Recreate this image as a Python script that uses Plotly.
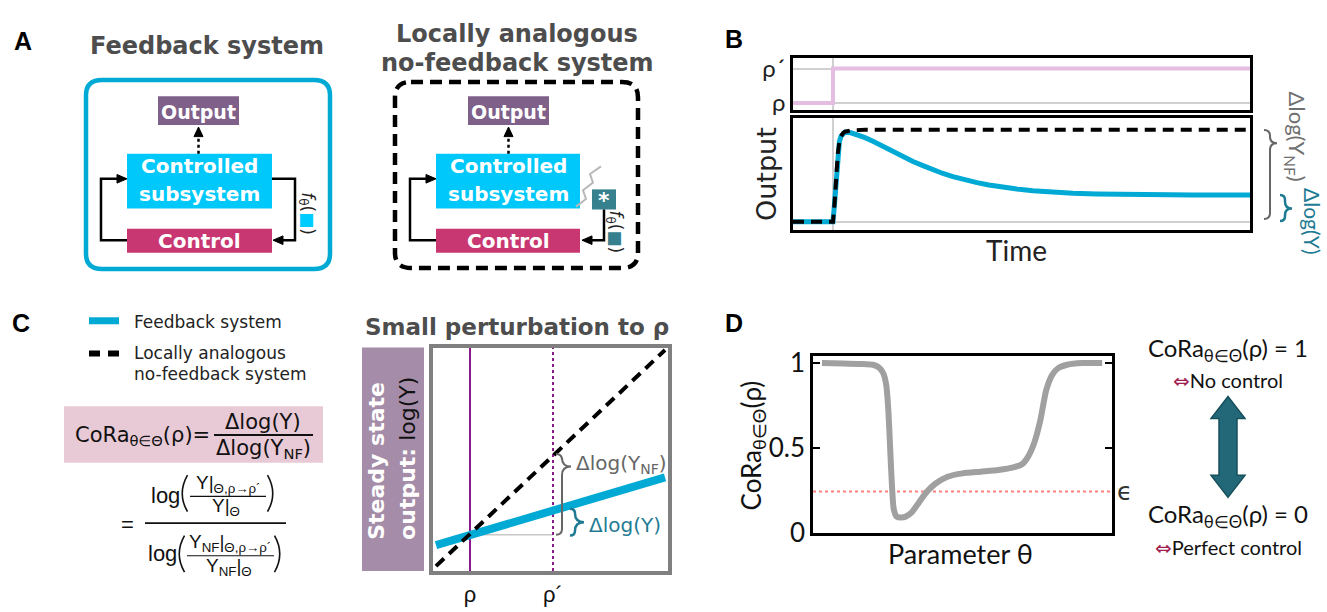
import plotly.graph_objects as go

W, H = 1327, 612

# ---------------- data ----------------
# Panel B (top): perturbation step in rho
b_step_time = [-1.0, 0.0, 10.43]
b_step_rho = [0, 1, 1]
b_rho_ticks = [0, 1]
b_rho_labels = ["ρ", "ρ´"]

# Panel B (bottom): output traces
b_time = [-1.0, 0.0, 0.04, 0.08, 0.12, 0.16, 0.2, 0.25, 0.3, 0.45, 0.6, 0.8, 1.0, 1.2, 1.4,
          1.6, 1.8, 2.0, 2.25, 2.5, 2.75, 3.0, 3.3, 3.6, 3.9, 4.2, 4.6, 5.0, 5.5, 6.0, 6.6,
          7.3, 8.0, 9.0, 10.43]
b_out_fb = [0, 0, 0.2, 0.5, 0.74, 0.87, 0.93, 0.962, 0.975, 0.968, 0.95, 0.915, 0.875, 0.83, 0.785,
            0.74, 0.695, 0.655, 0.61, 0.565, 0.525, 0.49, 0.455, 0.425, 0.4, 0.375, 0.355, 0.338,
            0.322, 0.31, 0.302, 0.297, 0.293, 0.291, 0.29]
b_out_nf = [0, 0, 0.2, 0.5, 0.74, 0.87, 0.93, 0.965, 0.98, 0.995, 1, 1, 1, 1, 1,
            1, 1, 1, 1, 1, 1, 1, 1, 1, 1, 1, 1, 1,
            1, 1, 1, 1, 1, 1, 1]

# Panel C: steady-state log output vs rho
c_rho = [0.59, 3.35]
c_logy_fb = [-0.13, 0.71]
c_logy_nf = [-0.39, 2.29]
c_rho_marks = [1, 2]
c_rho_labels = ["ρ", "ρ´"]
c_yrange = [-0.452, 2.32]
c_base = [0, 0]

# Panel D: CoRa vs parameter theta
d_theta = [0.3, 1.0, 1.6, 2.0, 2.2, 2.35, 2.45, 2.52, 2.58, 2.64, 2.7, 2.8, 2.95, 3.1, 3.3,
           3.55, 3.8, 4.1, 4.5, 5.0, 5.6, 6.2, 6.7, 7.0, 7.2, 7.4, 7.6, 7.8, 8.0, 8.2, 8.5, 9.0, 9.67]
d_cora = [1.0, 0.998, 0.995, 0.99, 0.975, 0.94, 0.87, 0.72, 0.5, 0.28, 0.14, 0.095, 0.09, 0.095, 0.12,
          0.18, 0.24, 0.29, 0.33, 0.35, 0.36, 0.37, 0.385, 0.405, 0.45, 0.53, 0.66, 0.84, 0.93, 0.97, 0.99, 1.0, 1.0]
d_eps_x = [0, 10]
d_eps = [0.243, 0.243]
d_yticks = [0, 0.5, 1]
d_ylabels = ["0", "0.5", "1"]

# ---------------- helpers ----------------
def P(x, y):
    return f"{x / W:.5f},{1 - y / H:.5f}"


def poly(points, close=False):
    s = "M " + " L ".join(P(x, y) for x, y in points)
    return s + (" Z" if close else "")


def rrect(x0, y0, x1, y1, r):
    return (f"M {P(x0 + r, y0)} L {P(x1 - r, y0)} Q {P(x1, y0)} {P(x1, y0 + r)} "
            f"L {P(x1, y1 - r)} Q {P(x1, y1)} {P(x1 - r, y1)} L {P(x0 + r, y1)} "
            f"Q {P(x0, y1)} {P(x0, y1 - r)} L {P(x0, y0 + r)} Q {P(x0, y0)} {P(x0 + r, y0)} Z")


def brace(xe, xm, xt, y1, y2, yt):
    r = xm - xe
    rt = xt - xm
    return (f"M {P(xe, y1)} Q {P(xm, y1)} {P(xm, y1 + r)} L {P(xm, yt - rt)} "
            f"Q {P(xm, yt)} {P(xt, yt)} Q {P(xm, yt)} {P(xm, yt + rt)} "
            f"L {P(xm, y2 - r)} Q {P(xm, y2)} {P(xe, y2)}")


def paren(x, y0, y1, side):
    b = 7 if side == "left" else -7
    return f"M {P(x + b / 2, y0)} Q {P(x - b, (y0 + y1) / 2)} {P(x + b / 2, y1)}"


shapes = []
annotations = []


def add_path(d, color, width=2, fill="rgba(0,0,0,0)", dash="solid"):
    shapes.append(dict(type="path", xref="paper", yref="paper", path=d,
                       line=dict(color=color, width=width, dash=dash), fillcolor=fill, layer="above"))


def add_rect(x0, y0, x1, y1, fill, line_color=None, width=0):
    shapes.append(dict(type="rect", xref="paper", yref="paper", x0=x0 / W, x1=x1 / W,
                       y0=1 - y1 / H, y1=1 - y0 / H, fillcolor=fill,
                       line=dict(color=line_color or fill, width=width), layer="below"))


def add_line(x0, y0, x1, y1, color, width=2, dash="solid"):
    shapes.append(dict(type="line", xref="paper", yref="paper", x0=x0 / W, x1=x1 / W,
                       y0=1 - y0 / H, y1=1 - y1 / H, line=dict(color=color, width=width, dash=dash),
                       layer="above"))


def txt(x, y, text, size=16, color="#222222", family="DejaVu Sans", xa="center", ya="middle", angle=0):
    annotations.append(dict(x=x / W, y=1 - y / H, xref="paper", yref="paper", text=text,
                            showarrow=False, xanchor=xa, yanchor=ya, textangle=angle,
                            font=dict(size=size, color=color, family=family)))


def head(tx, ty, direction, color="black", L=10, Wd=9):
    if direction == "right":
        pts = [(tx, ty), (tx - L, ty - Wd / 2), (tx - L, ty + Wd / 2)]
    elif direction == "left":
        pts = [(tx, ty), (tx + L, ty - Wd / 2), (tx + L, ty + Wd / 2)]
    else:  # up
        pts = [(tx, ty), (tx - Wd / 2, ty + L), (tx + Wd / 2, ty + L)]
    add_path(poly(pts, close=True), color, width=1, fill=color)


GRAY_T = "#4d4d4d"
C_OUT = "#7f6089"
C_SUB = "#00c8fa"
C_CTRL = "#c83771"
C_BLUE = "#00aad4"
C_TEAL = "#1f7b93"
IFF = "<span style='color:#a01e50;font-family:DejaVu Sans'>⇔</span>"

# ---------------- Panel A ----------------
txt(23, 32, "<b>A</b>", 25, "black", "Liberation Sans")
txt(207, 38, "<b>Feedback system</b>", 24, GRAY_T)
txt(517, 25, "<b>Locally analogous</b>", 24, GRAY_T)
txt(517, 55, "<b>no-feedback system</b>", 24, GRAY_T)

add_path(rrect(86, 73, 330, 270, 16), C_BLUE, width=4.5)
add_path(rrect(395, 75, 638, 269, 16), "black", width=4.5, dash="12px,7px")

for off, (bx0, bx1, ox0, ox1) in {0: (127, 272, 158, 239), 1: (436, 580, 468, 549)}.items():
    add_rect(ox0, 90, ox1, 120, C_OUT)
    add_rect(bx0, 150, bx1, 207, C_SUB)
    add_rect(bx0, 228, bx1, 253, C_CTRL)
    cx = (ox0 + ox1) / 2
    bc = (bx0 + bx1) / 2
    txt(cx, 106, "<b>Output</b>", 19, "white")
    txt(bc, 163, "<b>Controlled</b>", 20, "white")
    txt(bc, 192, "<b>subsystem</b>", 20, "white")
    txt(bc, 241, "<b>Control</b>", 20, "white")
    add_line(cx, 150, cx, 131, "black", 2.5, "dot")
    head(cx, 122, "up")
    # left loop arrow
    lx = bx0 - 26
    add_path(poly([(bx0, 240), (lx, 240), (lx, 176), (bx0 - 8, 176)]), "black", 2.5)
    head(bx0, 176, "right")

# right loop, feedback system
add_path(poly([(272, 176), (295, 176), (295, 240), (282, 240)]), "black", 2.5)
head(273, 240, "left")
txt(307, 212, "<i>f</i><sub>θ</sub>(<span style='color:#00ccff'>■</span>)", 17, "#222222",
    angle=90)

# no-feedback: zigzag, star box, arrow
add_path(poly([(576, 205), (586, 197), (583, 188), (593, 180), (590, 171), (601, 163)]), "#b8b8b8", 2)
add_rect(592, 187, 616, 208, "#37818f")
txt(604, 199, "<b>*</b>", 22, "white")
add_path(poly([(604, 208), (604, 240), (591, 240)]), "black", 2.5)
head(582, 240, "left")
txt(614, 231, "<i>f</i><sub>θ</sub>(<span style='color:#37818f'>■</span>)", 17, "#222222",
    angle=90)

# ---------------- Panel B ----------------
txt(734, 30, "<b>B</b>", 25, "black", "Liberation Sans")
txt(766, 171, "Output", 27, "#222222", "DejaVu Sans", angle=-90)
txt(1016, 250, "Time", 28, "#222222", "Lato")
add_path(brace(1264, 1270, 1277, 125, 218, 139), "#666666", 2)
add_path(brace(1280, 1285, 1292, 193, 220, 207), C_TEAL, 2.5)
txt(1296, 132, "Δlog(Y<sub>NF</sub>)", 22, "#707070", "Lato", angle=90)
txt(1313, 220, "Δlog(Y)", 21, C_TEAL, "Lato", angle=90)

# ---------------- Panel C ----------------
txt(21, 326, "<b>C</b>", 25, "black", "Liberation Sans")
add_line(89, 324, 119, 324, C_BLUE, 7)
add_line(89, 358, 119, 358, "black", 6, "11px,8px")
txt(132, 325, "Feedback system", 17, "#222222", xa="left")
txt(132, 358, "Locally analogous", 17, "#222222", xa="left")
txt(132, 380, "no-feedback system", 17, "#222222", xa="left")

add_rect(64, 413, 323, 472, "#e8cad6")
txt(212, 444, "CoRa<sub>θ∈Θ</sub>(ρ)=", 21, "#111111", xa="right")
txt(263, 430, "Δlog(Y)", 21, "#111111")
txt(263, 458, "Δlog(Y<sub>NF</sub>)", 21, "#111111")
add_line(214, 443, 313, 443, "#111111", 2)

FF = "Liberation Sans"
txt(127, 536, "=", 22, "#111111", FF)
add_line(145, 535, 286, 535, "#111111", 1.8)
txt(165, 506, "log", 22, "#111111", FF)
add_path(paren(184, 485, 523, "left"), "#111111", 1.6)
add_path(paren(271, 485, 523, "right"), "#111111", 1.6)
txt(228, 494, "Y|<sub>Θ,ρ→ρ´</sub>", 19, "#111111", FF)
add_line(190, 507, 266, 507, "#111111", 1.2)
txt(226, 518, "Y|<sub>Θ</sub>", 19, "#111111", FF)

txt(162, 567, "log", 22, "#111111", FF)
add_path(paren(181, 548, 586, "left"), "#111111", 1.6)
add_path(paren(278, 548, 586, "right"), "#111111", 1.6)
txt(230, 556, "Y<sub>NF</sub>|<sub>Θ,ρ→ρ´</sub>", 19, "#111111", FF)
add_line(187, 569, 274, 569, "#111111", 1.2)
txt(229, 581, "Y<sub>NF</sub>|<sub>Θ</sub>", 19, "#111111", FF)

txt(517, 330, "<b>Small perturbation to ρ</b>", 23, GRAY_T)
add_rect(362, 352, 424, 585, "#a58ca8")
txt(377, 470, "<b>Steady state</b>", 22, "white", angle=-90)
txt(408, 468, "<b>output:</b> <span style='color:#111111'>log(Y)</span>", 22, "white", angle=-90)
add_path(brace(556, 562, 571, 463, 547, 476), "#666666", 2)
add_path(brace(570, 575, 584, 520, 548, 534), C_TEAL, 2.5)
txt(574, 473, "Δlog(Y<sub>NF</sub>)", 20, "#666666", xa="left")
txt(587, 537, "Δlog(Y)", 20, C_TEAL, xa="left")

# ---------------- Panel D ----------------
txt(734, 326, "<b>D</b>", 25, "black", "Liberation Sans")
txt(752, 454, "CoRa<sub>θ∈Θ</sub>(ρ)", 26, "#111111", "Lato", angle=-90)
txt(960, 567, "Parameter θ", 27, "#111111", "Lato")
txt(1115, 502, "ϵ", 25, "#333333", "DejaVu Sans", xa="left")
txt(1228, 354, "CoRa<sub>θ∈Θ</sub>(ρ) = 1", 24, "#111111", "Lato")
txt(1228, 386, IFF + "No control", 20, "#111111", "Lato")
txt(1228, 527, "CoRa<sub>θ∈Θ</sub>(ρ) = 0", 24, "#111111", "Lato")
txt(1228, 560, IFF + "Perfect control", 20, "#111111", "Lato")
add_path(poly([(1228, 403), (1211, 426), (1219, 426), (1219, 485), (1211, 485), (1228, 508),
               (1245, 485), (1237, 485), (1237, 426), (1245, 426)], close=True),
         "#17505d", 1.5, fill="#236878")

# ---------------- traces ----------------
fig = go.Figure()
fig.add_trace(go.Scatter(x=b_step_time, y=b_step_rho, mode="lines", line_shape="hv",
                         line=dict(color="#e5bde3", width=4), xaxis="x", yaxis="y"))
fig.add_trace(go.Scatter(x=b_time, y=b_out_fb, mode="lines",
                         line=dict(color=C_BLUE, width=5), xaxis="x2", yaxis="y2"))
fig.add_trace(go.Scatter(x=b_time, y=b_out_nf, mode="lines",
                         line=dict(color="black", width=4, dash="11px,7px"), xaxis="x2", yaxis="y2"))

fig.add_trace(go.Scatter(x=c_rho_marks, y=c_base, mode="lines",
                         line=dict(color="#c8c8c8", width=1.5), xaxis="x3", yaxis="y3"))
fig.add_trace(go.Scatter(x=[c_rho_marks[0]] * 2, y=c_yrange, mode="lines",
                         line=dict(color="#8a1a8a", width=2), xaxis="x3", yaxis="y3"))
fig.add_trace(go.Scatter(x=[c_rho_marks[1]] * 2, y=c_yrange, mode="lines",
                         line=dict(color="#8a1a8a", width=2, dash="dot"), xaxis="x3", yaxis="y3"))
fig.add_trace(go.Scatter(x=c_rho, y=c_logy_fb, mode="lines",
                         line=dict(color=C_BLUE, width=8), xaxis="x3", yaxis="y3"))
fig.add_trace(go.Scatter(x=c_rho, y=c_logy_nf, mode="lines",
                         line=dict(color="black", width=4, dash="11px,7px"), xaxis="x3", yaxis="y3"))

fig.add_trace(go.Scatter(x=d_eps_x, y=d_eps, mode="lines",
                         line=dict(color="#ff8080", width=2, dash="dot"), xaxis="x4", yaxis="y4"))
fig.add_trace(go.Scatter(x=d_theta, y=d_cora, mode="lines", line_shape="spline",
                         line=dict(color="#a0a0a0", width=6, smoothing=0.6), xaxis="x4", yaxis="y4"))

frame = dict(showline=True, mirror=True, linecolor="black", linewidth=2.5, zeroline=False)

fig.update_layout(
    width=W, height=H, margin=dict(l=0, r=0, t=0, b=0),
    paper_bgcolor="white", plot_bgcolor="white", showlegend=False,
    font=dict(family="DejaVu Sans", color="#222222"),
    xaxis=dict(domain=[793 / W, 1250 / W], anchor="y", range=[-1, 10.43], tickvals=[0],
               showticklabels=False, showgrid=True, gridcolor="#d0d0d0", gridwidth=2, ticks="", **frame),
    yaxis=dict(domain=[1 - 104 / H, 1 - 50 / H], anchor="x", range=[-0.194, 1.306],
               tickvals=b_rho_ticks, ticktext=b_rho_labels, showgrid=True, gridcolor="#d0d0d0",
               gridwidth=2, ticks="", tickfont=dict(size=24, family="Lato", color="#222222"), **frame),
    xaxis2=dict(domain=[793 / W, 1250 / W], anchor="y2", range=[-1, 10.43], tickvals=[0],
                showticklabels=False, showgrid=True, gridcolor="#d0d0d0", gridwidth=2, ticks="", **frame),
    yaxis2=dict(domain=[1 - 229 / H, 1 - 113 / H], anchor="x2", range=[-0.087, 1.125], tickvals=[0],
                showticklabels=False, showgrid=True, gridcolor="#d0d0d0", gridwidth=2, ticks="", **frame),
    xaxis3=dict(domain=[433 / W, 668 / W], anchor="y3", range=[0.554, 3.386], tickvals=c_rho_marks,
                ticktext=c_rho_labels, showgrid=False, ticks="", showline=True, mirror=True,
                linecolor="#808080", linewidth=4, zeroline=False,
                tickfont=dict(size=22, color="#111111", family="Liberation Sans")),
    yaxis3=dict(domain=[1 - 585 / H, 1 - 352 / H], anchor="x3", range=c_yrange, showticklabels=False,
                showgrid=False, ticks="", showline=True, mirror=True, linecolor="#808080", linewidth=4,
                zeroline=False),
    xaxis4=dict(domain=[813 / W, 1112 / W], anchor="y4", range=[0, 10], showticklabels=False,
                showgrid=False, ticks="", **frame),
    yaxis4=dict(domain=[1 - 545 / H, 1 - 361 / H], anchor="x4", range=[0, 1.04], tickvals=d_yticks,
                ticktext=d_ylabels, showgrid=False, ticks="inside", ticklen=7, tickwidth=2,
                tickcolor="black", showline=True, mirror="ticks", linecolor="black", linewidth=2.5,
                zeroline=False, tickfont=dict(size=26, family="Lato", color="#111111")),
    shapes=shapes, annotations=annotations,
)

fig.write_html("out.html")
